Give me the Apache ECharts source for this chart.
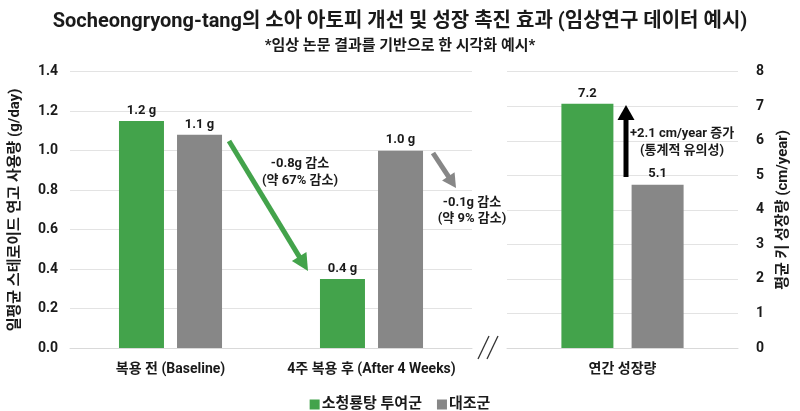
<!DOCTYPE html>
<html><head><meta charset="utf-8">
<script src="https://cdn.jsdelivr.net/npm/echarts/dist/echarts.min.js"></script>
<style>html,body{margin:0;padding:0;background:#fff}#c{width:800px;height:411px}</style>
</head><body><div id="c"></div>
<script>
// ---- data ----
const leftCategories = ['복용 전 (Baseline)', '4주 복용 후 (After 4 Weeks)'];
const rightCategories = ['연간 성장량'];
const seriesNames = ['소청룡탕 투여군', '대조군'];
const steroidTreat = [1.15, 0.35];
const steroidCtrl = [1.08, 1.0];
const steroidTreatLabels = ['1.2 g', '0.4 g'];
const steroidCtrlLabels = ['1.1 g', '1.0 g'];
const growthTreat = [7.07];
const growthCtrl = [4.73];
const growthTreatLabels = ['7.2'];
const growthCtrlLabels = ['5.1'];
const leftAxis = { min: 0, max: 1.4, interval: 0.2 };
const rightAxis = { min: 0, max: 8, interval: 1 };

const FONT = 'Roboto, "Noto Sans CJK KR", sans-serif';
const GREEN = '#43a34b', GRAY = '#878787', TXT = '#1a1a1a';

const chart = echarts.init(document.getElementById('c'));

function arrow(x1, y1, x2, y2, w, hl, hw, color) {
  const dx = x2 - x1, dy = y2 - y1, L = Math.sqrt(dx * dx + dy * dy);
  const ux = dx / L, uy = dy / L, px = -uy, py = ux;
  const bx = x2 - ux * hl, by = y2 - uy * hl;
  return [
    { type: 'line', shape: { x1: x1, y1: y1, x2: bx + ux, y2: by + uy }, style: { stroke: color, lineWidth: w }, z: 50 },
    { type: 'polygon', shape: { points: [[x2, y2], [bx + px * hw / 2, by + py * hw / 2], [bx - px * hw / 2, by - py * hw / 2]] }, style: { fill: color }, z: 50 }
  ];
}
function txt(x, y, s) {
  return { type: 'text', x: x, y: y, z: 60, style: { text: s, font: 'bold 13px ' + FONT, fill: TXT, textAlign: 'center', textVerticalAlign: 'middle' } };
}

const labelStyle = { show: true, position: 'top', distance: 4, fontFamily: FONT, fontWeight: 'bold', fontSize: 13, color: TXT };
const catLabel = { interval: 0, margin: 15, fontFamily: FONT, fontSize: 14, fontWeight: 'bold', color: TXT };

chart.setOption({
  animation: false,
  backgroundColor: '#fff',
  textStyle: { fontFamily: FONT },
  title: [
    { text: 'Socheongryong-tang의 소아 아토피 개선 및 성장 촉진 효과 (임상연구 데이터 예시)', left: 'center', top: 7,
      textStyle: { fontFamily: FONT, fontSize: 20, fontWeight: 'bold', color: TXT } },
    { text: '*임상 논문 결과를 기반으로 한 시각화 예시*', left: 'center', top: 34,
      textStyle: { fontFamily: FONT, fontSize: 15, fontWeight: 'bold', color: TXT } }
  ],
  legend: {
    data: seriesNames, left: 'center', top: 392, icon: 'rect', itemWidth: 10, itemHeight: 10, itemGap: 15,
    textStyle: { fontFamily: FONT, fontSize: 15, fontWeight: 'bold', color: TXT, padding: [0, 0, 0, -3] }
  },
  grid: [
    { left: 70, width: 402, top: 71.7, height: 276.3 },
    { left: 507, width: 231, top: 71.7, height: 276.3 }
  ],
  xAxis: [
    { type: 'category', gridIndex: 0, data: leftCategories, axisTick: { show: false },
      axisLine: { lineStyle: { color: '#d9d9d9' } }, axisLabel: catLabel },
    { type: 'category', gridIndex: 1, data: rightCategories, axisTick: { show: false },
      axisLine: { lineStyle: { color: '#d9d9d9' } }, axisLabel: catLabel }
  ],
  yAxis: [
    { type: 'value', gridIndex: 0, position: 'left', min: leftAxis.min, max: leftAxis.max, interval: leftAxis.interval,
      name: '일평균 스테로이드 연고 사용량 (g/day)', nameLocation: 'middle', nameGap: 47,
      nameTextStyle: { fontFamily: FONT, fontSize: 15, fontWeight: 'bold', color: TXT },
      axisLine: { show: false }, axisTick: { show: false },
      axisLabel: { margin: 12, fontFamily: FONT, fontSize: 14, fontWeight: 'bold', color: TXT, formatter: v => v.toFixed(1) },
      splitLine: { lineStyle: { color: '#e3e3e3' } } },
    { type: 'value', gridIndex: 1, position: 'right', min: rightAxis.min, max: rightAxis.max, interval: rightAxis.interval,
      name: '평균 키 성장량 (cm/year)', nameLocation: 'middle', nameGap: 38, nameRotate: 90,
      nameTextStyle: { fontFamily: FONT, fontSize: 15, fontWeight: 'bold', color: TXT },
      axisLine: { show: false }, axisTick: { show: false },
      axisLabel: { margin: 18, fontFamily: FONT, fontSize: 14, fontWeight: 'bold', color: TXT },
      splitLine: { lineStyle: { color: '#e3e3e3' } } }
  ],
  series: [
    { name: seriesNames[0], type: 'bar', xAxisIndex: 0, yAxisIndex: 0, data: steroidTreat, barWidth: 45, barGap: '29%',
      itemStyle: { color: GREEN }, label: Object.assign({}, labelStyle, { formatter: p => steroidTreatLabels[p.dataIndex] }) },
    { name: seriesNames[1], type: 'bar', xAxisIndex: 0, yAxisIndex: 0, data: steroidCtrl, barWidth: 45, barGap: '29%',
      itemStyle: { color: GRAY }, label: Object.assign({}, labelStyle, { formatter: p => steroidCtrlLabels[p.dataIndex] }) },
    { name: seriesNames[0], type: 'bar', xAxisIndex: 1, yAxisIndex: 1, data: growthTreat, barWidth: 52, barGap: '35%',
      itemStyle: { color: GREEN }, label: Object.assign({}, labelStyle, { formatter: p => growthTreatLabels[p.dataIndex] }) },
    { name: seriesNames[1], type: 'bar', xAxisIndex: 1, yAxisIndex: 1, data: growthCtrl, barWidth: 52, barGap: '35%',
      itemStyle: { color: GRAY }, label: Object.assign({}, labelStyle, { formatter: p => growthCtrlLabels[p.dataIndex] }) }
  ],
  graphic: [].concat(
    arrow(229, 141, 308, 271, 5, 17, 17, GREEN),
    arrow(433, 153, 456, 188, 5, 14, 15, GRAY),
    arrow(626, 177, 626, 105, 5, 15, 17, '#000'),
    [
      txt(300, 164, '-0.8g 감소'), txt(300, 181, '(약 67% 감소)'),
      txt(472, 203, '-0.1g 감소'), txt(472, 219, '(약 9% 감소)'),
      txt(682, 134, '+2.1 cm/year 증가'), txt(682, 151, '(통계적 유의성)'),
      { type: 'line', shape: { x1: 478, y1: 359, x2: 489, y2: 336 }, style: { stroke: '#333', lineWidth: 1.3 } },
      { type: 'line', shape: { x1: 487, y1: 359, x2: 498, y2: 336 }, style: { stroke: '#333', lineWidth: 1.3 } }
    ]
  )
});
</script></body></html>
